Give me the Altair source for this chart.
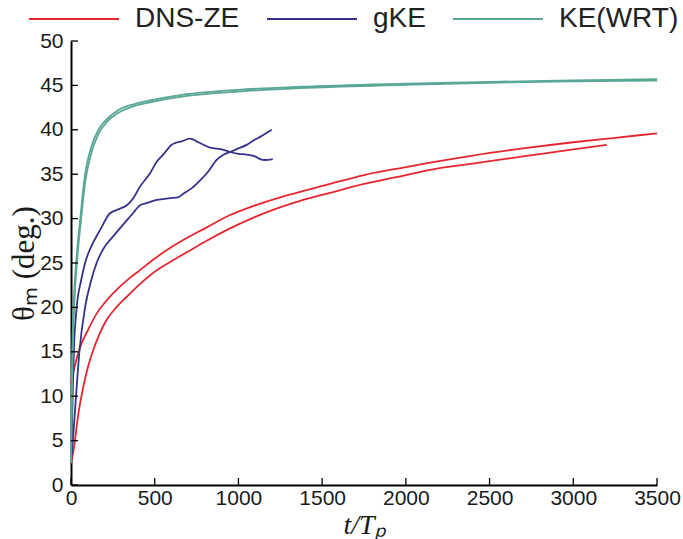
import altair as alt
import pandas as pd

# Series names shown in the legend
series_names = ["DNS-ZE", "gKE", "KE(WRT)"]
series_colors = ["#e5262e", "#36318a", "#5aa795"]

# DNS-ZE, run 1 (starts from a tilted state)
dns1_t = [0, 20, 54, 100, 153, 200, 273, 350, 412, 500, 600, 700, 800, 950, 1100,
          1250, 1368, 1547, 1750, 2000, 2145, 2400, 2700, 3000, 3250, 3500]
dns1_theta = [11.3, 13.2, 15.5, 17.4, 19.3, 20.5, 22.0, 23.3, 24.2, 25.5, 26.8, 27.9, 28.9,
              30.4, 31.5, 32.4, 33.0, 33.9, 34.9, 35.8, 36.3, 37.1, 37.9, 38.6, 39.1, 39.6]

# DNS-ZE, run 2
dns2_t = [0, 20, 40, 74, 100, 133, 170, 213, 270, 333, 410, 492, 600, 691, 800, 950,
          1100, 1368, 1547, 1750, 2000, 2145, 2400, 2700, 3000, 3200]
dns2_theta = [2.4, 4.5, 7.5, 11.1, 13.2, 15.2, 17.0, 18.6, 20.0, 21.2, 22.6, 23.9, 25.2,
              26.2, 27.4, 28.9, 30.2, 32.0, 32.9, 33.9, 34.9, 35.5, 36.2, 37.0, 37.8, 38.3]

# gKE, run 1
gke1_t = [0, 5, 10, 17, 34, 60, 84, 130, 173, 233, 290, 333, 372, 412, 472, 512, 551,
          600, 621, 660, 711, 760, 830, 900, 950, 1000, 1049, 1100, 1129, 1160, 1205]
gke1_theta = [2.5, 6.0, 10.0, 15.0, 20.0, 23.0, 25.0, 27.2, 28.7, 30.6, 31.1, 31.5, 32.3,
              33.6, 35.1, 36.4, 37.2, 38.3, 38.5, 38.7, 39.0, 38.6, 38.0, 37.8, 37.5, 37.3,
              37.2, 37.0, 36.7, 36.6, 36.7]

# gKE, run 2
gke2_t = [0, 15, 30, 50, 84, 120, 153, 200, 243, 283, 333, 370, 412, 460, 512, 591, 640,
          671, 720, 771, 820, 870, 910, 950, 1000, 1049, 1090, 1129, 1165, 1199]
gke2_theta = [2.5, 6.0, 10.0, 15.0, 20.0, 23.0, 25.0, 26.8, 27.8, 28.7, 29.8, 30.6, 31.5,
              31.8, 32.1, 32.3, 32.4, 32.8, 33.4, 34.3, 35.3, 36.6, 37.2, 37.5, 37.9, 38.3,
              38.8, 39.2, 39.6, 40.0]

# KE(WRT), run 1
ke1_t = [0, 5, 10, 20, 35, 58, 84, 120, 163, 220, 281, 380, 472, 651, 1000, 1368, 2000,
         2500, 3000, 3500]
ke1_theta = [2.5, 12.0, 17.0, 22.0, 26.0, 30.5, 35.0, 38.0, 40.0, 41.3, 42.2, 42.9, 43.3,
             43.9, 44.5, 44.85, 45.2, 45.4, 45.55, 45.7]

# KE(WRT), run 2
ke2_t = [0, 5, 10, 20, 35, 58, 84, 120, 163, 220, 281, 380, 472, 651, 1000, 1368, 2000,
         2500, 3000, 3500]
ke2_theta = [2.5, 10.0, 15.0, 20.5, 25.0, 29.5, 34.0, 37.3, 39.5, 41.0, 41.9, 42.7, 43.1,
             43.7, 44.3, 44.7, 45.05, 45.3, 45.45, 45.55]

x_ticks = [0, 500, 1000, 1500, 2000, 2500, 3000, 3500]
y_ticks = [0, 5, 10, 15, 20, 25, 30, 35, 40, 45, 50]

runs = [
    ("DNS-ZE", "dns1", dns1_t, dns1_theta),
    ("DNS-ZE", "dns2", dns2_t, dns2_theta),
    ("gKE", "gke1", gke1_t, gke1_theta),
    ("gKE", "gke2", gke2_t, gke2_theta),
    ("KE(WRT)", "ke1", ke1_t, ke1_theta),
    ("KE(WRT)", "ke2", ke2_t, ke2_theta),
]
rows = []
for name, run, ts, ths in runs:
    for i, (t, th) in enumerate(zip(ts, ths)):
        rows.append({"series": name, "run": run, "t": t, "theta": th, "order": i})
df = pd.DataFrame(rows)

W, H = 586, 444
TICK = 7
x_scale = alt.Scale(domain=[0, 3500], nice=False, zero=False)
y_scale = alt.Scale(domain=[0, 50], nice=False, zero=False)

x_axis = alt.Axis(
    values=x_ticks, format="d", ticks=False, grid=False, labelFlush=False,
    domainColor="#000", domainWidth=2, zindex=0,
    labelFont="Liberation Sans", labelFontSize=21, labelColor="#1a1a1a", labelPadding=2,
    title="t/Tₚ", titleFont="Liberation Serif", titleFontSize=28, titleFontStyle="italic",
    titleFontWeight="normal", titleColor="#1a1a1a", titleY=48, titleBaseline="alphabetic",
)
y_axis = alt.Axis(
    values=y_ticks, format="d", ticks=False, grid=False, labelFlush=False,
    domainColor="#000", domainWidth=2, zindex=0,
    labelFont="Liberation Sans", labelFontSize=21, labelColor="#1a1a1a", labelPadding=8,
    title="θₘ (deg.)", titleFont="Liberation Serif", titleFontSize=31,
    titleFontWeight="normal", titleColor="#1a1a1a", titleX=-47, titleY=H / 2,
    titleAngle=-90, titleAlign="center", titleBaseline="middle",
)

lines = alt.Chart(df).mark_line(interpolate="monotone").encode(
    x=alt.X("t:Q", scale=x_scale, axis=x_axis),
    y=alt.Y("theta:Q", scale=y_scale, axis=y_axis),
    color=alt.Color(
        "series:N",
        scale=alt.Scale(domain=series_names, range=series_colors),
        legend=alt.Legend(
            title=None, orient="none", direction="horizontal", legendX=-43, legendY=-68,
            symbolType="stroke", symbolSize=8100, symbolStrokeWidth=2.5,
            labelFont="Liberation Sans", labelFontSize=28, labelColor="#222",
            labelOffset=15, columnPadding=23, columns=3,
        ),
    ),
    strokeWidth=alt.StrokeWidth(
        "series:N", scale=alt.Scale(domain=series_names, range=[1.8, 1.8, 2.4]), legend=None
    ),
    detail="run:N",
    order="order:Q",
)

# Inward-pointing tick marks on both axes
x_tick_df = pd.DataFrame({"t": x_ticks})
y_tick_df = pd.DataFrame({"theta": y_ticks})
xt = alt.Chart(x_tick_df).mark_tick(
    color="#000000", thickness=1.3, size=TICK, orient="vertical", opacity=1
).encode(
    x=alt.X("t:Q", scale=x_scale),
    y=alt.value(H - TICK / 2),
)
yt = alt.Chart(y_tick_df).mark_tick(
    color="#000000", thickness=1.3, size=TICK, orient="horizontal", opacity=1
).encode(
    y=alt.Y("theta:Q", scale=y_scale),
    x=alt.value(TICK / 2),
)

chart = alt.layer(lines, xt, yt).properties(
    width=W, height=H,
    autosize=alt.AutoSizeParams(type="none"),
    padding={"left": 71, "top": 41, "right": 26, "bottom": 54},
    background="white",
).configure_view(stroke=None)

chart.save("out.html", embed_options={"renderer": "svg", "actions": False})
